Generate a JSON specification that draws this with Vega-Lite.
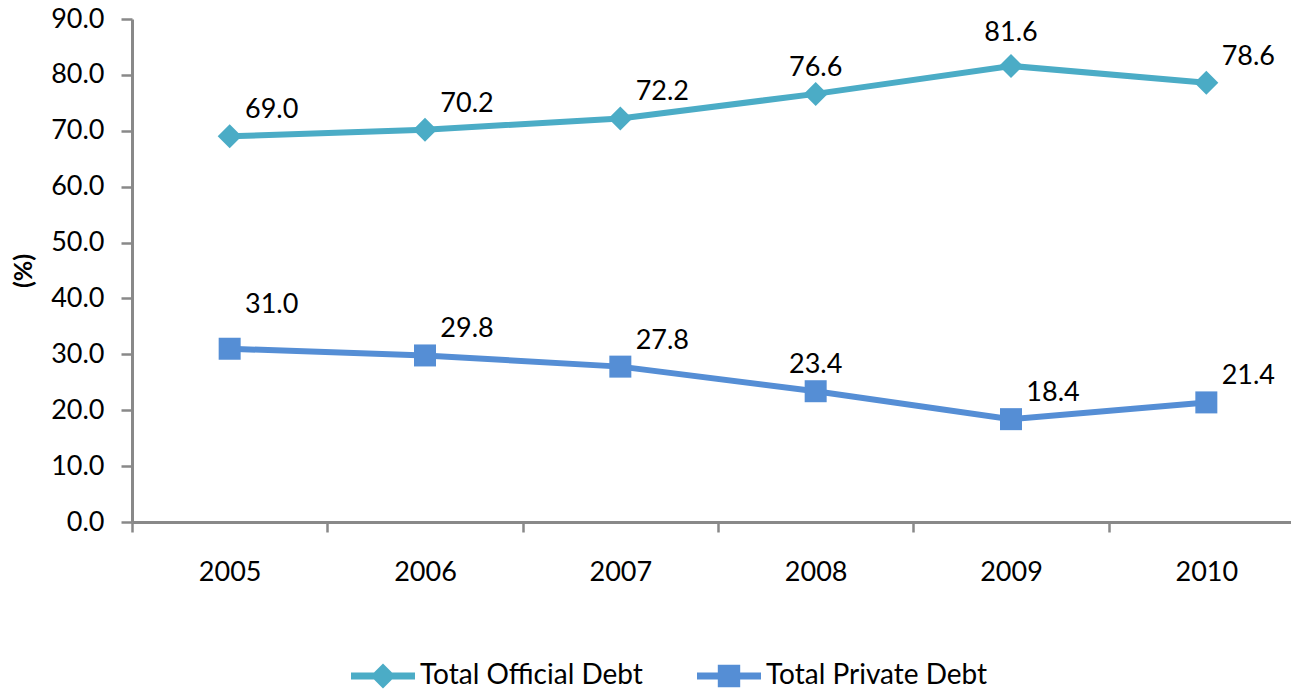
{
  "$schema": "https://vega.github.io/schema/vega-lite/v6.json",
  "autosize": {"type": "none"},
  "width": 1172,
  "height": 503,
  "padding": {"left": 132, "top": 19, "right": -13, "bottom": 169},
  "background": "white",
  "config": {
    "font": "Lato",
    "view": {"stroke": null},
    "axis": {"labelFont": "Lato", "labelFontSize": 27, "labelColor": "#000", "titleFont": "Lato", "domainColor": "#898989", "tickColor": "#898989", "domainWidth": 3, "tickWidth": 2.5, "grid": false}
  },
  "data": {
    "values": [
      {"year": "2005", "series": "Total Official Debt", "value": 69.0},
      {"year": "2006", "series": "Total Official Debt", "value": 70.2},
      {"year": "2007", "series": "Total Official Debt", "value": 72.2},
      {"year": "2008", "series": "Total Official Debt", "value": 76.6},
      {"year": "2009", "series": "Total Official Debt", "value": 81.6},
      {"year": "2010", "series": "Total Official Debt", "value": 78.6},
      {"year": "2005", "series": "Total Private Debt", "value": 31.0},
      {"year": "2006", "series": "Total Private Debt", "value": 29.8},
      {"year": "2007", "series": "Total Private Debt", "value": 27.8},
      {"year": "2008", "series": "Total Private Debt", "value": 23.4},
      {"year": "2009", "series": "Total Private Debt", "value": 18.4},
      {"year": "2010", "series": "Total Private Debt", "value": 21.4}
    ]
  },
  "encoding": {
    "x": {
      "field": "year", "type": "ordinal",
      "scale": {"type": "band", "paddingInner": 0, "paddingOuter": 0},
      "axis": {"title": null, "labelAngle": 0, "tickBand": "extent", "tickSize": 10, "labelPadding": 27}
    },
    "y": {
      "field": "value", "type": "quantitative",
      "scale": {"domain": [0, 90], "nice": false},
      "axis": {"title": "(%)", "titleFontSize": 25, "titleFontWeight": "bold", "titleColor": "#000", "titlePadding": 14, "values": [0, 10, 20, 30, 40, 50, 60, 70, 80, 90], "format": ".1f", "tickSize": 11, "labelPadding": 17}
    },
    "color": {
      "field": "series", "type": "nominal",
      "scale": {"domain": ["Total Official Debt", "Total Private Debt"], "range": ["#4BACC6", "#558ED5"]},
      "legend": {
        "title": null, "orient": "none", "direction": "horizontal",
        "legendX": 219, "legendY": 625, "labelLimit": 0,
        "labelFontSize": 28, "labelFont": "Lato", "labelColor": "#000",
        "symbolSize": 4096, "labelOffset": 5, "columnPadding": 54, "symbolStrokeWidth": 0,
        "encode": {
          "symbols": {
            "update": {
              "shape": {"signal": "datum.value == 'Total Official Debt' ? 'M-1,-0.11H1V0.11H-1Z M0,-0.39L0.39,0L0,0.39L-0.39,0Z' : 'M-1,-0.11H1V0.11H-1Z M-0.35,-0.35H0.35V0.35H-0.35Z'"},
              "fillOpacity": {"value": 1}
            }
          }
        }
      }
    }
  },
  "layer": [
    {"mark": {"type": "line", "strokeWidth": 6}, "encoding": {}},
    {
      "transform": [{"filter": "datum.series == 'Total Official Debt'"}],
      "mark": {"type": "point", "filled": true, "opacity": 1, "shape": "diamond", "size": 576},
      "encoding": {}
    },
    {
      "transform": [{"filter": "datum.series == 'Total Private Debt'"}],
      "mark": {"type": "point", "filled": true, "opacity": 1, "shape": "square", "size": 484},
      "encoding": {}
    },
    {
      "mark": {
        "type": "text", "fontSize": 27, "font": "Lato", "color": "#000", "baseline": "middle", "align": "center",
        "dx": {"expr": "datum.year == '2008' || (datum.year == '2009' && datum.series == 'Total Official Debt') ? 0 : 42"},
        "dy": {"expr": "datum.series == 'Total Private Debt' && datum.year == '2005' ? -44 : (datum.year == '2009' && datum.series == 'Total Official Debt') ? -33 : -26"}
      },
      "encoding": {"text": {"field": "value", "type": "quantitative", "format": ".1f"}, "color": {"value": "#000"}}
    }
  ]
}
